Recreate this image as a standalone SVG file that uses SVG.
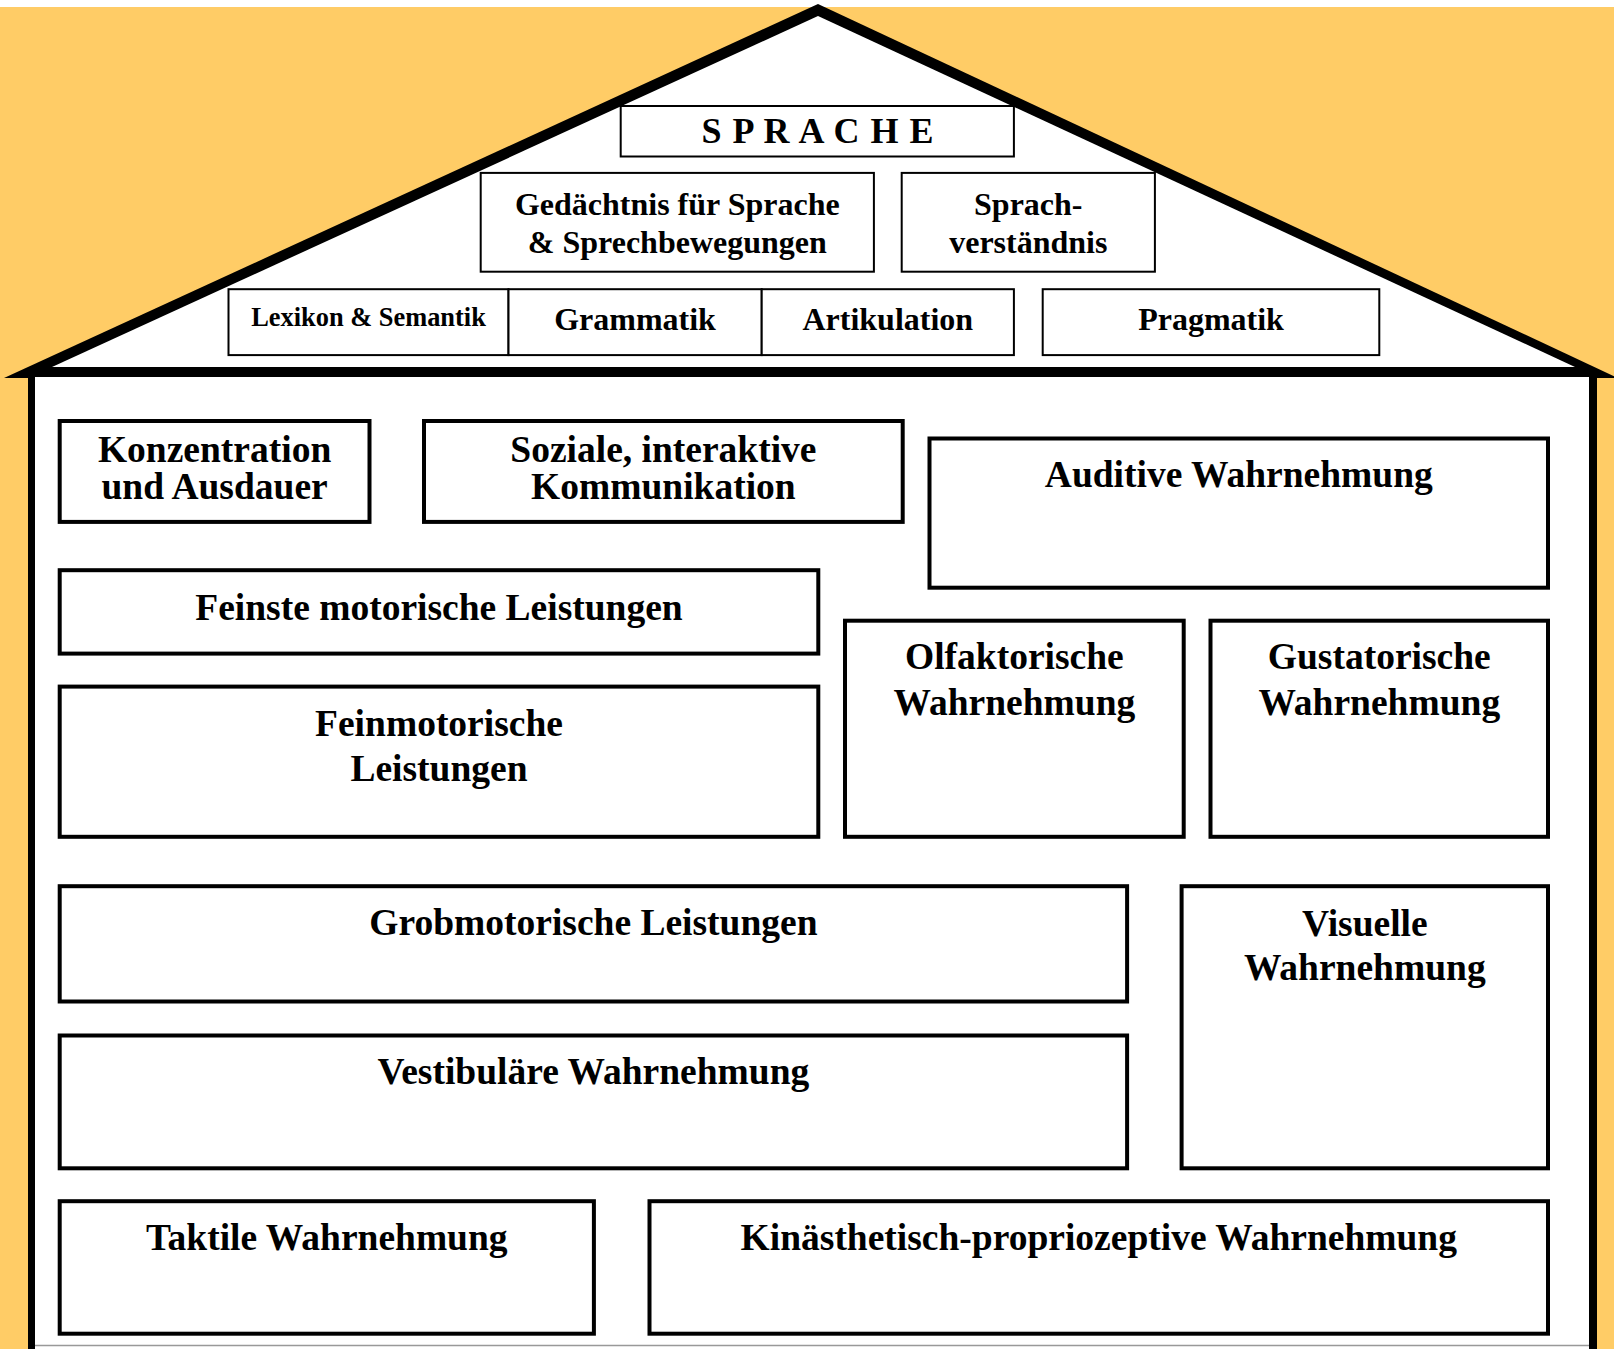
<svg xmlns="http://www.w3.org/2000/svg" width="1614" height="1349" viewBox="0 0 1614 1349">
<style>
.t{font-family:"Liberation Serif","Times New Roman",serif;font-weight:bold;fill:#000;text-anchor:middle}
.m{font-size:37.5px}
.r{font-size:32px}
.s{font-size:26.4px}
.bx{fill:#fff;stroke:#000;stroke-width:4}
.rb{fill:#fff;stroke:#000;stroke-width:2}
</style>
<g id="house">
<rect x="0" y="0" width="1614" height="1349" fill="#fff"/>
<rect x="0" y="7" width="1614" height="1342" fill="#FFCC66"/>
<polygon points="4,378 818,4 1618,378" fill="#000"/>
<polygon points="52,367 818,16 1575,367" fill="#fff"/>
<rect x="28" y="376" width="1569" height="980" fill="#000"/>
<rect x="35" y="377" width="1554" height="980" fill="#fff"/>
<line x1="35" y1="1345.5" x2="1589" y2="1345.5" stroke="#999" stroke-width="1.5"/>
</g>
<g id="connectors"/>
<g id="sprache"><rect class="rb" x="620.7" y="106" width="393.2" height="50.5"/><text class="t" style="font-size:36px;letter-spacing:1px" x="818" y="142.7">S P R A C H E</text></g>
<g id="gedaechtnis"><rect class="rb" x="480.7" y="172.9" width="393.2" height="98.8"/><text class="t r" x="677.3" y="214.5">Gedächtnis für Sprache</text><text class="t r" x="677.3" y="252.9">&amp; Sprechbewegungen</text></g>
<g id="sprachverstaendnis"><rect class="rb" x="901.7" y="172.9" width="253.2" height="98.8"/><text class="t r" x="1028.3" y="214.5">Sprach-</text><text class="t r" x="1028.3" y="252.9">verständnis</text></g>
<g id="lexikon"><rect class="rb" x="228.5" y="289.2" width="280" height="65.9"/><text class="t s" x="368.5" y="325.5">Lexikon &amp; Semantik</text></g>
<g id="grammatik"><rect class="rb" x="508.5" y="289.2" width="253.2" height="65.9"/><text class="t r" x="635" y="330.3">Grammatik</text></g>
<g id="artikulation"><rect class="rb" x="761.7" y="289.2" width="252.2" height="65.9"/><text class="t r" x="887.8" y="330.3">Artikulation</text></g>
<g id="pragmatik"><rect class="rb" x="1042.7" y="289.2" width="336.6" height="65.9"/><text class="t r" x="1211" y="330.3">Pragmatik</text></g>
<g id="konzentration"><rect class="bx" x="59.7" y="421" width="309.8" height="100.9"/><text class="t m" x="214.6" y="462">Konzentration</text><text class="t m" x="214.6" y="498.5">und Ausdauer</text></g>
<g id="soziale"><rect class="bx" x="424" y="421" width="478.7" height="100.9"/><text class="t m" x="663.4" y="462">Soziale, interaktive</text><text class="t m" x="663.4" y="498.5">Kommunikation</text></g>
<g id="auditive"><rect class="bx" x="929.5" y="438.5" width="618.5" height="149.2"/><text class="t m" x="1238.8" y="487.2">Auditive Wahrnehmung</text></g>
<g id="feinste"><rect class="bx" x="59.7" y="570.2" width="758.6" height="83.4"/><text class="t m" x="439" y="620.3">Feinste motorische Leistungen</text></g>
<g id="feinmotorische"><rect class="bx" x="59.7" y="686.6" width="758.6" height="150.2"/><text class="t m" x="439" y="736.2">Feinmotorische</text><text class="t m" x="439" y="781.2">Leistungen</text></g>
<g id="olfaktorische"><rect class="bx" x="845" y="620.7" width="338.7" height="216.1"/><text class="t m" x="1014.4" y="669.3">Olfaktorische</text><text class="t m" x="1014.4" y="714.8">Wahrnehmung</text></g>
<g id="gustatorische"><rect class="bx" x="1210.5" y="620.7" width="337.5" height="216.1"/><text class="t m" x="1379.3" y="669.3">Gustatorische</text><text class="t m" x="1379.3" y="714.8">Wahrnehmung</text></g>
<g id="grobmotorische"><rect class="bx" x="59.7" y="886.2" width="1067.4" height="115.3"/><text class="t m" x="593.4" y="935.2">Grobmotorische Leistungen</text></g>
<g id="vestibulaere"><rect class="bx" x="59.7" y="1035.5" width="1067.4" height="132.8"/><text class="t m" x="593.4" y="1083.9">Vestibuläre Wahrnehmung</text></g>
<g id="visuelle"><rect class="bx" x="1181.6" y="886.2" width="366.4" height="282.1"/><text class="t m" x="1364.8" y="935.8">Visuelle</text><text class="t m" x="1364.8" y="980.3">Wahrnehmung</text></g>
<g id="taktile"><rect class="bx" x="59.7" y="1201.2" width="534.2" height="132.5"/><text class="t m" x="326.8" y="1250.3">Taktile Wahrnehmung</text></g>
<g id="kinaesthetisch"><rect class="bx" x="649.5" y="1201.2" width="898.5" height="132.5"/><text class="t m" x="1098.8" y="1250.3">Kinästhetisch-propriozeptive Wahrnehmung</text></g>
</svg>
